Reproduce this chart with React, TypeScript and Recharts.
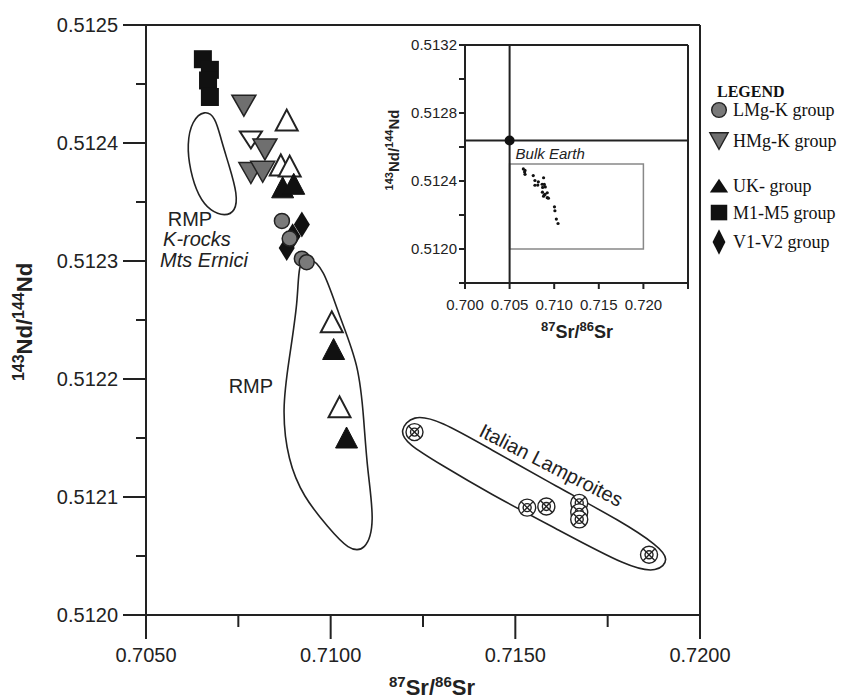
import React from 'react';
import {
  ScatterChart, Scatter, XAxis, YAxis, ReferenceLine, ReferenceDot, ReferenceArea, Legend,
} from 'recharts';

// main plot ticks
const srMajor = [0.705, 0.71, 0.715, 0.72];
const srMinor = [0.7075, 0.7125, 0.7175];
const ndMajor = [0.512, 0.5121, 0.5122, 0.5123, 0.5124, 0.5125];
const ndMinor = [0.51205, 0.51215, 0.51225, 0.51235, 0.51245];

// inset ticks
const insetSrTicks = [0.7, 0.705, 0.71, 0.715, 0.72, 0.725];
const insetSrLabeled = [0.7, 0.705, 0.71, 0.715, 0.72];
const insetNdMajor = [0.512, 0.5124, 0.5128, 0.5132];
const insetNdMinor = [0.5118, 0.5122, 0.5126, 0.513];

// sample groups (87Sr/86Sr, 143Nd/144Nd)
const lmgK = [
  { sr: 0.70868, nd: 0.512334 },
  { sr: 0.70889, nd: 0.512319 },
  { sr: 0.70922, nd: 0.512302 },
  { sr: 0.70935, nd: 0.512299 },
];
const hmgK = [
  { sr: 0.70765, nd: 0.512432 },
  { sr: 0.70822, nd: 0.512395 },
  { sr: 0.70784, nd: 0.512375 },
  { sr: 0.70816, nd: 0.512376 },
];
const ukGroup = [
  { sr: 0.7087, nd: 0.512362 },
  { sr: 0.709, nd: 0.512365 },
  { sr: 0.71008, nd: 0.512225 },
  { sr: 0.71043, nd: 0.51215 },
];
const m1m5 = [
  { sr: 0.70654, nd: 0.512471 },
  { sr: 0.70673, nd: 0.512462 },
  { sr: 0.70668, nd: 0.512453 },
  { sr: 0.70673, nd: 0.512439 },
];
const v1v2 = [
  { sr: 0.70922, nd: 0.512331 },
  { sr: 0.70897, nd: 0.512321 },
  { sr: 0.70881, nd: 0.512311 },
];
const openUp = [
  { sr: 0.70881, nd: 0.512419 },
  { sr: 0.70865, nd: 0.512381 },
  { sr: 0.70889, nd: 0.51238 },
  { sr: 0.71003, nd: 0.512248 },
  { sr: 0.71024, nd: 0.512176 },
];
const openDown = [{ sr: 0.70784, nd: 0.512403 }];
const lamproites = [
  { sr: 0.71227, nd: 0.512155 },
  { sr: 0.71532, nd: 0.512091 },
  { sr: 0.71584, nd: 0.512092 },
  { sr: 0.71673, nd: 0.512095 },
  { sr: 0.71673, nd: 0.512087 },
  { sr: 0.71673, nd: 0.512081 },
  { sr: 0.71862, nd: 0.512051 },
];

// field outlines
const erniciField = [
  { sr: 0.70659, nd: 0.512428 },
  { sr: 0.70688, nd: 0.512422 },
  { sr: 0.70703, nd: 0.512403 },
  { sr: 0.70725, nd: 0.512381 },
  { sr: 0.70748, nd: 0.512356 },
  { sr: 0.70742, nd: 0.512342 },
  { sr: 0.70714, nd: 0.512338 },
  { sr: 0.70675, nd: 0.512342 },
  { sr: 0.70641, nd: 0.512355 },
  { sr: 0.70619, nd: 0.512377 },
  { sr: 0.70611, nd: 0.512399 },
  { sr: 0.70624, nd: 0.512419 },
];
const rmpField = [
  { sr: 0.70938, nd: 0.512304 },
  { sr: 0.7098, nd: 0.512295 },
  { sr: 0.71022, nd: 0.512254 },
  { sr: 0.71077, nd: 0.512212 },
  { sr: 0.7109, nd: 0.512165 },
  { sr: 0.71099, nd: 0.512123 },
  { sr: 0.7112, nd: 0.512078 },
  { sr: 0.71095, nd: 0.512054 },
  { sr: 0.71048, nd: 0.512055 },
  { sr: 0.70994, nd: 0.512074 },
  { sr: 0.70926, nd: 0.5121 },
  { sr: 0.70884, nd: 0.512131 },
  { sr: 0.70868, nd: 0.512174 },
  { sr: 0.70887, nd: 0.512216 },
  { sr: 0.70912, nd: 0.512267 },
  { sr: 0.70912, nd: 0.512298 },
];
const lamproiteField = [
  { sr: 0.71185, nd: 0.512156 },
  { sr: 0.71222, nd: 0.51217 },
  { sr: 0.71295, nd: 0.512165 },
  { sr: 0.7143, nd: 0.512141 },
  { sr: 0.71611, nd: 0.512109 },
  { sr: 0.71789, nd: 0.512079 },
  { sr: 0.71885, nd: 0.512059 },
  { sr: 0.71918, nd: 0.512047 },
  { sr: 0.71885, nd: 0.512036 },
  { sr: 0.71808, nd: 0.51204 },
  { sr: 0.71611, nd: 0.512073 },
  { sr: 0.7143, nd: 0.512103 },
  { sr: 0.71295, nd: 0.512128 },
  { sr: 0.71208, nd: 0.512145 },
];

const fieldLabels = [
  { sr: 0.70619, nd: 0.512336, text: 'RMP', italic: false, angle: 0 },
  { sr: 0.70638, nd: 0.512319, text: 'K-rocks', italic: true, angle: 0 },
  { sr: 0.70657, nd: 0.512301, text: 'Mts Ernici', italic: true, angle: 0 },
  { sr: 0.70784, nd: 0.512194, text: 'RMP', italic: false, angle: 0 },
  { sr: 0.71597, nd: 0.512127, text: 'Italian Lamproites', italic: false, angle: 27 },
];

const bulkEarth = { sr: 0.705, nd: 0.512638 };

const legendNames = ['LMg-K group', 'HMg-K group', 'UK- group', 'M1-M5 group', 'V1-V2 group'];

const SANS = '"Liberation Sans", Arial, sans-serif';
const SERIF = '"Liberation Serif", "Times New Roman", serif';
const INK = '#222';
const GRAY = '#6f6f6f';

const Empty = () => <g />;

const Circle = (p: any) => (
  <circle cx={p.cx} cy={p.cy} r={7.5} fill="#7a7a7a" stroke={INK} strokeWidth={1.5} />
);
const DownTri = (p: any) => (
  <polygon
    points={`${p.cx - 12},${p.cy - 10} ${p.cx + 12},${p.cy - 10} ${p.cx},${p.cy + 11}`}
    fill={GRAY} stroke={INK} strokeWidth={1.5}
  />
);
const OpenDownTri = (p: any) => (
  <polygon
    points={`${p.cx - 11},${p.cy - 8} ${p.cx + 11},${p.cy - 8} ${p.cx},${p.cy + 9}`}
    fill="#fff" stroke={INK} strokeWidth={2}
  />
);
const UpTri = (p: any) => (
  <polygon
    points={`${p.cx - 11},${p.cy + 10} ${p.cx + 11},${p.cy + 10} ${p.cx},${p.cy - 11}`}
    fill="#111" stroke="#111" strokeWidth={1}
  />
);
const OpenUpTri = (p: any) => (
  <polygon
    points={`${p.cx - 11},${p.cy + 10} ${p.cx + 11},${p.cy + 10} ${p.cx},${p.cy - 11}`}
    fill="#fff" stroke={INK} strokeWidth={2}
  />
);
const Square = (p: any) => (
  <rect x={p.cx - 9} y={p.cy - 9} width={18} height={18} fill="#111" />
);
const Diamond = (p: any) => (
  <polygon
    points={`${p.cx},${p.cy - 13} ${p.cx + 8},${p.cy} ${p.cx},${p.cy + 13} ${p.cx - 8},${p.cy}`}
    fill="#111"
  />
);
const CrossCircle = (p: any) => (
  <g stroke={INK} strokeWidth={1.4} fill="none">
    <circle cx={p.cx} cy={p.cy} r={8.5} fill="#fff" />
    <circle cx={p.cx} cy={p.cy} r={4} />
    <line x1={p.cx - 6} y1={p.cy - 6} x2={p.cx + 6} y2={p.cy + 6} />
    <line x1={p.cx - 6} y1={p.cy + 6} x2={p.cx + 6} y2={p.cy - 6} />
  </g>
);
const Dot = (p: any) => <circle cx={p.cx} cy={p.cy} r={1.6} fill="#111" />;

function MainXTick({ x, y, payload }: any) {
  const major = srMajor.includes(payload.value);
  return (
    <g>
      <line x1={x} x2={x} y1={y} y2={y + (major ? 24 : 12)} stroke={INK} strokeWidth={2} />
      {major && (
        <text x={x} y={y + 47} textAnchor="middle" fontSize={20} fill={INK} fontFamily={SANS}>
          {payload.value.toFixed(4)}
        </text>
      )}
    </g>
  );
}

function MainYTick({ x, y, payload }: any) {
  const major = ndMajor.includes(payload.value);
  return (
    <g>
      <line x1={x - (major ? 23 : 10)} x2={x} y1={y} y2={y} stroke={INK} strokeWidth={2} />
      {major && (
        <text x={x - 28} y={y + 7} textAnchor="end" fontSize={20} fill={INK} fontFamily={SANS}>
          {payload.value.toFixed(4)}
        </text>
      )}
    </g>
  );
}

function InsetXTick({ x, y, payload }: any) {
  const labeled = insetSrLabeled.includes(payload.value);
  return (
    <g>
      <line x1={x} x2={x} y1={y} y2={y + 6} stroke={INK} strokeWidth={2} />
      {labeled && (
        <text x={x} y={y + 27} textAnchor="middle" fontSize={15} fill={INK} fontFamily={SANS}>
          {payload.value.toFixed(3)}
        </text>
      )}
    </g>
  );
}

function InsetYTick({ x, y, payload }: any) {
  const major = insetNdMajor.includes(payload.value);
  return (
    <g>
      <line x1={x - 6} x2={x} y1={y} y2={y} stroke={INK} strokeWidth={2} />
      {major && (
        <text x={x - 8} y={y + 5} textAnchor="end" fontSize={15} fill={INK} fontFamily={SANS}>
          {payload.value.toFixed(4)}
        </text>
      )}
    </g>
  );
}

const SrTitle = ({ x, y, size, sup }: any) => (
  <text x={x} y={y} textAnchor="middle" fontSize={size} fontWeight="bold" fill={INK} fontFamily={SANS}>
    <tspan fontSize={sup} dy={-size * 0.38}>87</tspan>
    <tspan dy={size * 0.38}>Sr/</tspan>
    <tspan fontSize={sup} dy={-size * 0.38}>86</tspan>
    <tspan dy={size * 0.38}>Sr</tspan>
  </text>
);

const NdTitle = ({ x, y, size, sup }: any) => (
  <text
    x={x} y={y} textAnchor="middle" fontSize={size} fontWeight="bold" fill={INK} fontFamily={SANS}
    transform={`rotate(-90, ${x}, ${y})`}
  >
    <tspan fontSize={sup} dy={-size * 0.38}>143</tspan>
    <tspan dy={size * 0.38}>Nd/</tspan>
    <tspan fontSize={sup} dy={-size * 0.38}>144</tspan>
    <tspan dy={size * 0.38}>Nd</tspan>
  </text>
);

const legendMarkers = [
  <circle key="c" cx={10} cy={10} r={8} fill="#7a7a7a" stroke={INK} strokeWidth={1.5} />,
  <polygon key="d" points="0,1 20,1 10,19" fill={GRAY} stroke={INK} strokeWidth={1.5} />,
  <polygon key="u" points="0,17 20,17 10,2" fill="#111" />,
  <rect key="s" x={1} y={1} width={18} height={17} fill="#111" />,
  <polygon key="v" points="10,-4 17,10 10,24 3,10" fill="#111" />,
];
const legendRowGaps = [0, 31, 45, 27, 29];

function LegendBox() {
  return (
    <div style={{ fontFamily: SERIF, color: '#111' }}>
      <div style={{ fontWeight: 'bold', fontSize: 16, marginLeft: 9, lineHeight: '16px' }}>LEGEND</div>
      {legendNames.map((name, i) => (
        <div
          key={name}
          style={{
            position: 'absolute', left: 0, top: 15 + legendRowGaps.slice(0, i + 1).reduce((a, b) => a + b, 0),
            display: 'flex', alignItems: 'center', whiteSpace: 'nowrap',
          }}
        >
          <svg width={22} height={22} viewBox="0 -2 20 24" style={{ overflow: 'visible' }}>{legendMarkers[i]}</svg>
          <span style={{ fontSize: 18, lineHeight: '18px', marginLeft: 3 }}>{name}</span>
        </div>
      ))}
    </div>
  );
}

const insetPoints = [...lmgK, ...hmgK, ...ukGroup, ...m1m5, ...v1v2, ...openUp, ...openDown];

export default function App() {
  return (
    <div style={{ position: 'absolute', left: 0, top: 0, width: 850, height: 699, background: '#fff' }}>
      <ScatterChart width={850} height={699} margin={{ top: 25, right: 150, bottom: 24, left: 20 }}>
        <XAxis
          type="number" dataKey="sr" domain={[0.705, 0.72]} allowDataOverflow
          ticks={[...srMajor, ...srMinor].sort()} interval={0}
          tickSize={0} tickMargin={0} tickLine={false} tick={MainXTick}
          axisLine={{ stroke: INK, strokeWidth: 2 }} height={60}
          label={{ content: (p: any) => <SrTitle x={p.viewBox.x + p.viewBox.width / 2 + 9} y={695} size={22} sup={15} /> }}
        />
        <YAxis
          type="number" dataKey="nd" domain={[0.512, 0.5125]} allowDataOverflow
          ticks={[...ndMajor, ...ndMinor].sort()} interval={0}
          tickSize={0} tickMargin={0} tickLine={false} tick={MainYTick}
          axisLine={{ stroke: INK, strokeWidth: 2 }} width={126}
          label={{ content: (p: any) => <NdTitle x={32} y={p.viewBox.y + p.viewBox.height / 2 + 2} size={22} sup={16} /> }}
        />
        <ReferenceLine y={0.5125} stroke={INK} strokeWidth={2} />
        <ReferenceLine x={0.72} stroke={INK} strokeWidth={2} />

        <Scatter data={erniciField} shape={Empty} line={{ stroke: INK, strokeWidth: 1.6, fill: 'none' }} lineJointType="basisClosed" isAnimationActive={false} legendType="none" />
        <Scatter data={rmpField} shape={Empty} line={{ stroke: INK, strokeWidth: 1.6, fill: 'none' }} lineJointType="basisClosed" isAnimationActive={false} legendType="none" />
        <Scatter data={lamproiteField} shape={Empty} line={{ stroke: INK, strokeWidth: 1.6, fill: 'none' }} lineJointType="basisClosed" isAnimationActive={false} legendType="none" />

        <Scatter data={lamproites} shape={CrossCircle} isAnimationActive={false} legendType="none" />
        <Scatter data={openUp} shape={OpenUpTri} isAnimationActive={false} legendType="none" />
        <Scatter data={openDown} shape={OpenDownTri} isAnimationActive={false} legendType="none" />
        <Scatter name="HMg-K group" data={hmgK} shape={DownTri} isAnimationActive={false} />
        <Scatter name="UK- group" data={ukGroup} shape={UpTri} isAnimationActive={false} />
        <Scatter name="M1-M5 group" data={m1m5} shape={Square} isAnimationActive={false} />
        <Scatter name="V1-V2 group" data={v1v2} shape={Diamond} isAnimationActive={false} />
        <Scatter name="LMg-K group" data={lmgK} shape={Circle} isAnimationActive={false} />

        {fieldLabels.map((l, i) => (
          <ReferenceDot
            key={i} x={l.sr} y={l.nd}
            shape={(p: any) => (
              <text
                x={p.cx} y={p.cy} textAnchor="middle" dominantBaseline="central"
                fontSize={20} fill={INK} fontFamily={SANS} fontStyle={l.italic ? 'italic' : 'normal'}
                transform={l.angle ? `rotate(${l.angle}, ${p.cx}, ${p.cy})` : undefined}
              >
                {l.text}
              </text>
            )}
          />
        ))}

        <Legend
          layout="vertical" align="center" verticalAlign="middle"
          wrapperStyle={{ left: 708, top: 84, width: 142, height: 180 }}
          content={() => <LegendBox />}
        />
      </ScatterChart>

      <div style={{ position: 'absolute', left: 380, top: 20 }}>
        <ScatterChart width={315} height={335} margin={{ top: 25, right: 7, bottom: 22, left: 0 }}>
          <XAxis
            type="number" dataKey="sr" domain={[0.7, 0.725]} allowDataOverflow
            ticks={insetSrTicks} interval={0}
            tickSize={0} tickMargin={0} tickLine={false} tick={InsetXTick}
            axisLine={{ stroke: INK, strokeWidth: 2 }} height={50}
            label={{ content: () => <SrTitle x={197} y={318} size={18} sup={13} /> }}
          />
          <YAxis
            type="number" dataKey="nd" domain={[0.5118, 0.5132]} allowDataOverflow
            ticks={[...insetNdMajor, ...insetNdMinor].sort()} interval={0}
            tickSize={0} tickMargin={0} tickLine={false} tick={InsetYTick}
            axisLine={{ stroke: INK, strokeWidth: 2 }} width={85}
            label={{ content: () => <NdTitle x={19} y={130} size={15} sup={11} /> }}
          />
          <ReferenceLine y={0.5132} stroke={INK} strokeWidth={2} />
          <ReferenceLine x={0.725} stroke={INK} strokeWidth={2} />
          <ReferenceArea x1={0.705} x2={0.72} y1={0.512} y2={0.5125} fill="none" stroke="#888" strokeWidth={1.5} />
          <ReferenceLine x={bulkEarth.sr} stroke={INK} strokeWidth={2} />
          <ReferenceLine y={bulkEarth.nd} stroke={INK} strokeWidth={2} />
          <Scatter data={insetPoints} shape={Dot} isAnimationActive={false} />
          <ReferenceDot
            x={bulkEarth.sr} y={bulkEarth.nd}
            shape={(p: any) => (
              <g>
                <circle cx={p.cx} cy={p.cy} r={5} fill="#111" />
                <text x={p.cx + 6} y={p.cy + 18} fontSize={15} fontStyle="italic" fill={INK} fontFamily={SANS}>
                  Bulk Earth
                </text>
              </g>
            )}
          />
        </ScatterChart>
      </div>
    </div>
  );
}
